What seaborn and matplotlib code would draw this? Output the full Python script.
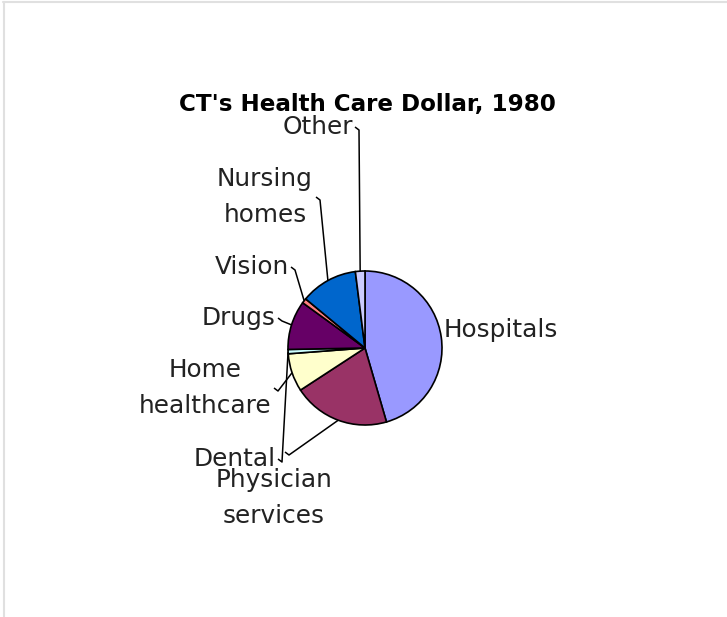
import matplotlib
matplotlib.use("Agg")
import matplotlib.pyplot as plt
from matplotlib.lines import Line2D
import numpy as np
import seaborn as sns

# Data
categories = ["Hospitals", "Physician\nservices", "Home\nhealthcare", "Dental",
              "Drugs", "Vision", "Nursing\nhomes", "Other"]
shares = [45.5, 20.3, 8.0, 0.9, 10.3, 1.0, 12.0, 2.0]
colors = ["#9999FF", "#993366", "#FFFFCC", "#CCFFFF",
          "#660066", "#FF8080", "#0066CC", "#CCCCFF"]
title = "CT's Health Care Dollar, 1980"

sns.set_theme(style="white")
plt.rcParams['font.family'] = ['DejaVu Sans']

W, H = 727, 617
fig = plt.figure(figsize=(W / 100, H / 100), dpi=100)
ax = fig.add_axes([0, 0, 1, 1])

cx, cy, R = 365, H - 348, 77
palette = sns.color_palette(colors)
wedges, _ = ax.pie(shares, colors=palette, startangle=90, counterclock=False,
                   center=(cx, cy), radius=R,
                   wedgeprops=dict(edgecolor="black", linewidth=1.2))
ax.set_xlim(0, W)
ax.set_ylim(0, H)
ax.set_aspect("equal")
ax.axis("off")

def edge_point(w):
    mid = np.deg2rad((w.theta1 + w.theta2) / 2)
    return cx + R * np.cos(mid), cy + R * np.sin(mid)

# label layout: (x, y in image coords, ha, leader start in image coords or None)
layout = [
    (444, 330, "left", None),
    (274, 498, "center", (285, 452)),
    (205, 388, "center", (274, 388)),
    (276, 459, "right", (278, 459)),
    (276, 318, "right", (278, 318)),
    (289, 267, "right", (291, 267)),
    (265, 197, "center", (316, 197)),
    (353, 127, "right", (355, 127)),
]

fs = 17.8
for w, lab, (x, y, ha, start) in zip(wedges, categories, layout):
    ax.text(x, H - y, lab, ha=ha, va="center", fontsize=fs, color="#222222",
            linespacing=1.65)
    if start is not None:
        ex, ey = edge_point(w)
        sx, sy = start[0], H - start[1]
        ax.plot([sx, sx + 4, ex], [sy, sy - 3, ey], color="black", lw=1.1,
                solid_capstyle="butt", zorder=0.5)

ax.text(367, H - 104, title, ha="center", va="center", fontsize=16.6,
        fontweight="bold", color="black")

# light frame lines (top and left)
fig.add_artist(Line2D([3.5 / W, 3.5 / W], [0, 1 - 2 / H], transform=fig.transFigure,
                      color="#e0e0e0", lw=1.5))
fig.add_artist(Line2D([3 / W, 1], [1 - 2 / H, 1 - 2 / H], transform=fig.transFigure,
                      color="#e0e0e0", lw=1.5))

fig.savefig("out.png", dpi=100)
